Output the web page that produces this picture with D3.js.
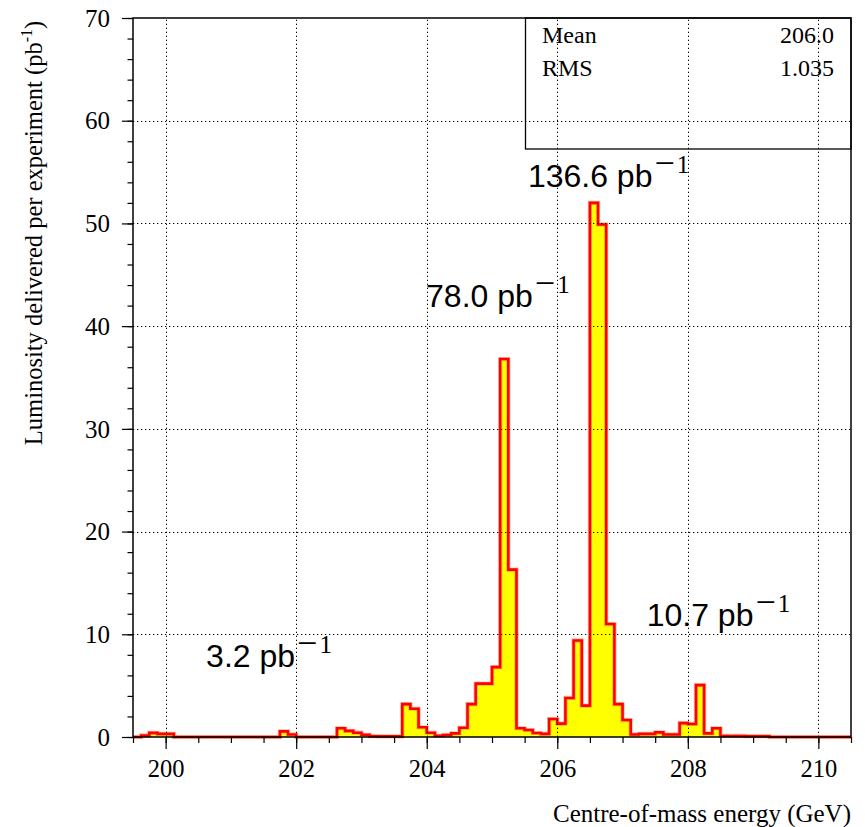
<!DOCTYPE html>
<html>
<head>
<meta charset="utf-8">
<script src="https://cdn.jsdelivr.net/npm/d3@7"></script>
<style>
  html, body { margin: 0; padding: 0; background: #fff; }
  svg { display: block; }
</style>
</head>
<body>
<svg id="chart" width="865" height="827"></svg>
<script>
// ---------------- data ----------------
const binStart = 199.5;      // GeV, lower edge of first bin
const binWidth = 0.125;      // GeV
const lumi = [
  0, 0.15, 0.4, 0.3, 0.3, 0, 0, 0, 0, 0,
  0, 0, 0, 0, 0, 0, 0, 0, 0.55, 0.25,
  0, 0, 0, 0, 0, 0.85, 0.6, 0.42, 0.22, 0.08,
  0.06, 0.06, 0.06, 3.2, 2.75, 0.95, 0.42, 0.12, 0.2, 0.35,
  0.9, 3.2, 5.2, 5.2, 6.8, 36.8, 16.3, 0.85, 0.68, 0.39,
  0.3, 1.75, 1.3, 3.8, 9.4, 3.05, 52.0, 49.9, 11.0, 3.2,
  1.65, 0.25, 0.3, 0.3, 0.45, 0.25, 0.25, 1.35, 1.27, 5.05,
  0.35, 0.85, 0.1, 0.1, 0.1, 0.08, 0.08, 0.08, 0, 0,
  0, 0, 0, 0, 0, 0, 0, 0
];
const xDomain = [199.5, 210.5];
const yDomain = [0, 70];
const xMajorTicks = [200, 202, 204, 206, 208, 210];
const xMinorTicks = d3.range(199.5, 210.51, 0.5);
const yMajorTicks = [0, 10, 20, 30, 40, 50, 60, 70];
const yMinorTicks = d3.range(0, 70.01, 2);
const statNames = ["Mean", "RMS"];
const statValues = ["206.0", "1.035"];
const annotations = [
  { text: "3.2 pb",   x: 200.62, y: 6.8 },
  { text: "78.0 pb",  x: 203.99, y: 41.9 },
  { text: "136.6 pb", x: 205.55, y: 53.5 },
  { text: "10.7 pb",  x: 207.37, y: 10.8 }
];

// ---------------- layout ----------------
const svg = d3.select("#chart");
const L = 133, R = 851, T = 18, B = 737;
const x = d3.scaleLinear().domain(xDomain).range([L, R]);
const y = d3.scaleLinear().domain(yDomain).range([B, T]);
const serif = "'Liberation Serif', 'Times New Roman', serif";
const sans = "'Liberation Sans', Arial, Helvetica, sans-serif";

// ---------------- histogram ----------------
const pts = [[binStart, 0]];
lumi.forEach((v, i) => {
  const x0 = binStart + i * binWidth, x1 = x0 + binWidth;
  pts.push([x0, v]); pts.push([x1, v]);
});
pts.push([binStart + lumi.length * binWidth, 0]);
const line = d3.line().x(d => x(d[0])).y(d => y(d[1]));
svg.append("path")
  .attr("d", line(pts) + "Z")
  .attr("fill", "#ffff00")
  .attr("stroke", "none");
svg.append("path")
  .attr("d", line(pts))
  .attr("fill", "none")
  .attr("stroke", "#ff7a3a")
  .attr("stroke-opacity", 0.5)
  .attr("stroke-width", 4.2)
  .attr("stroke-linejoin", "miter");
svg.append("path")
  .attr("d", line(pts))
  .attr("fill", "none")
  .attr("stroke", "#ff0000")
  .attr("stroke-width", 2.6)
  .attr("stroke-linejoin", "miter");

// ---------------- grid (drawn on top) ----------------
const grid = svg.append("g").attr("stroke", "#000").attr("stroke-width", 1)
  .attr("stroke-dasharray", "1.3,2.7");
grid.selectAll("line.gx").data(xMajorTicks).join("line")
  .attr("x1", d => Math.round(x(d)) + 0.5).attr("x2", d => Math.round(x(d)) + 0.5)
  .attr("y1", B).attr("y2", T);
grid.selectAll("line.gy").data(yMajorTicks.filter(d => d > 0 && d < 70)).join("line")
  .attr("y1", d => Math.round(y(d)) + 0.5).attr("y2", d => Math.round(y(d)) + 0.5)
  .attr("x1", L).attr("x2", R);

// ---------------- axes ----------------
const xAxisMinor = d3.axisBottom(x).tickValues(xMinorTicks).tickSize(6).tickFormat("");
const xAxisMajor = d3.axisBottom(x).tickValues(xMajorTicks).tickSize(12).tickPadding(10)
  .tickFormat(d3.format("d"));
const gxm = svg.append("g").attr("transform", `translate(0,${B})`).call(xAxisMinor);
const gx = svg.append("g").attr("transform", `translate(0,${B})`).call(xAxisMajor);
[gxm, gx].forEach(g => { g.select(".domain").remove(); g.selectAll("line").attr("stroke", "#000").attr("stroke-width", 1.2); });
gx.selectAll("text").attr("font-family", serif).attr("font-size", 24.5).attr("fill", "#000")
  .attr("dy", "0.74em");

const yAxisMinor = d3.axisLeft(y).tickValues(yMinorTicks).tickSize(5.5).tickFormat("");
const yAxisMajor = d3.axisLeft(y).tickValues(yMajorTicks).tickSize(11).tickPadding(12)
  .tickFormat(d3.format("d"));
const gym = svg.append("g").attr("transform", `translate(${L},0)`).call(yAxisMinor);
const gy = svg.append("g").attr("transform", `translate(${L},0)`).call(yAxisMajor);
[gym, gy].forEach(g => { g.select(".domain").remove(); g.selectAll("line").attr("stroke", "#000").attr("stroke-width", 1.2); });
gy.selectAll("text").attr("font-family", serif).attr("font-size", 25).attr("fill", "#000")
  .attr("dy", "0.33em");

// frame
svg.append("rect").attr("x", L).attr("y", T).attr("width", R - L).attr("height", B - T)
  .attr("fill", "none").attr("stroke", "#000").attr("stroke-width", 1.5);

// ---------------- stats box ----------------
const box = { x0: 525.5, y0: 18, x1: 851, y1: 149 };
svg.append("rect").attr("x", box.x0).attr("y", box.y0)
  .attr("width", box.x1 - box.x0).attr("height", box.y1 - box.y0)
  .attr("fill", "none").attr("stroke", "#000").attr("stroke-width", 1.3);
statNames.forEach((n, i) => {
  svg.append("text").attr("x", 542).attr("y", 43 + i * 33)
    .attr("font-family", serif).attr("font-size", 24).text(n);
  svg.append("text").attr("x", 834).attr("y", 43 + i * 33)
    .attr("text-anchor", "end").attr("font-family", serif).attr("font-size", 24).text(statValues[i]);
});

// ---------------- annotations ----------------
annotations.forEach(a => {
  const t = svg.append("text").attr("x", x(a.x)).attr("y", y(a.y))
    .attr("font-family", sans).attr("font-size", 32).attr("fill", "#000");
  t.append("tspan").text(a.text);
  t.append("tspan").attr("font-family", serif).attr("font-size", 36)
    .attr("dx", 2).attr("dy", -12).text("\u2212");
  t.append("tspan").attr("font-family", serif).attr("font-size", 25)
    .attr("dx", 2).attr("dy", -2).text("1");
});

// ---------------- axis titles ----------------
svg.append("text").attr("x", 851).attr("y", 822).attr("text-anchor", "end")
  .attr("font-family", serif).attr("font-size", 25).text("Centre-of-mass energy (GeV)");

const yt = svg.append("text")
  .attr("transform", `translate(42,233) rotate(-90)`)
  .attr("text-anchor", "middle").attr("font-family", serif).attr("font-size", 24.5);
yt.append("tspan").text("Luminosity delivered per experiment (pb");
yt.append("tspan").attr("font-size", 16).attr("dy", -10).text("-1");
yt.append("tspan").attr("dy", 10).text(")");
</script>
</body>
</html>
